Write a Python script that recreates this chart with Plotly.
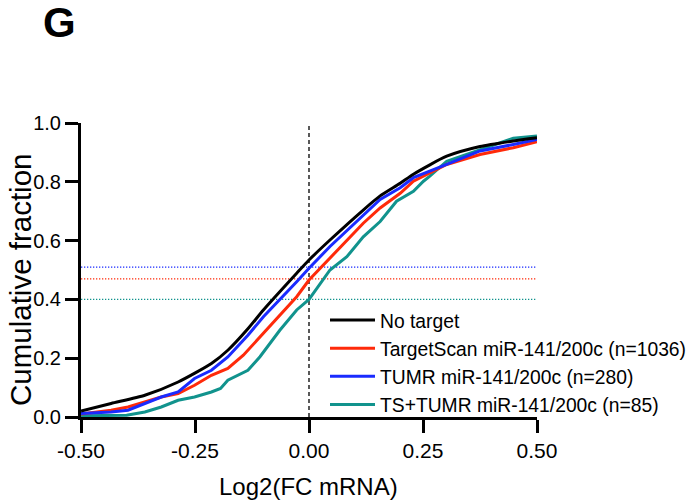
import plotly.graph_objects as go

# Cumulative fraction curves
x_black = [-0.5, -0.434, -0.36, -0.287, -0.214, -0.178, -0.134, -0.1, -0.027, 0.0, 0.046, 0.119, 0.156, 0.2, 0.229, 0.302, 0.375, 0.448, 0.5]
y_black = [0.02, 0.046, 0.074, 0.119, 0.182, 0.227, 0.30, 0.364, 0.489, 0.534, 0.602, 0.704, 0.752, 0.795, 0.826, 0.887, 0.92, 0.939, 0.95]

x_red = [-0.5, -0.434, -0.397, -0.36, -0.324, -0.287, -0.251, -0.214, -0.178, -0.144, -0.1, -0.027, 0.0, 0.046, 0.119, 0.156, 0.2, 0.229, 0.302, 0.375, 0.448, 0.5]
y_red = [0.01, 0.023, 0.034, 0.051, 0.068, 0.08, 0.108, 0.142, 0.165, 0.21, 0.284, 0.409, 0.466, 0.54, 0.659, 0.711, 0.761, 0.802, 0.859, 0.893, 0.916, 0.936]

x_blue = [-0.5, -0.434, -0.397, -0.36, -0.324, -0.287, -0.251, -0.214, -0.178, -0.134, -0.1, -0.027, 0.0, 0.046, 0.119, 0.156, 0.2, 0.229, 0.302, 0.375, 0.448, 0.5]
y_blue = [0.012, 0.017, 0.023, 0.046, 0.068, 0.085, 0.131, 0.159, 0.204, 0.278, 0.341, 0.46, 0.506, 0.58, 0.687, 0.74, 0.78, 0.814, 0.859, 0.905, 0.927, 0.944]

x_teal = [-0.5, -0.4, -0.36, -0.324, -0.287, -0.251, -0.214, -0.194, -0.178, -0.134, -0.1075, -0.064, -0.027, 0.0, 0.046, 0.083, 0.119, 0.156, 0.192, 0.229, 0.251, 0.265, 0.302, 0.375, 0.448, 0.5]
y_teal = [0.004, 0.006, 0.017, 0.034, 0.057, 0.068, 0.085, 0.097, 0.125, 0.159, 0.205, 0.295, 0.364, 0.40, 0.5, 0.545, 0.613, 0.665, 0.734, 0.768, 0.802, 0.819, 0.87, 0.91, 0.948, 0.956]

series_names = ["No target", "TargetScan miR-141/200c (n=1036)", "TUMR miR-141/200c (n=280)", "TS+TUMR miR-141/200c (n=85)"]
series_colors = ["#000000", "#ff2a0a", "#1a2bff", "#11938d"]

# Fraction at x = 0 for the three target sets (dotted reference lines)
ref_levels = [0.51, 0.47, 0.40]
ref_colors = ["#1a2bff", "#ff2a0a", "#11938d"]

x_ticks = [-0.5, -0.25, 0.0, 0.25, 0.5]
x_tick_labels = ["-0.50", "-0.25", "0.00", "0.25", "0.50"]
y_ticks = [0.0, 0.2, 0.4, 0.6, 0.8, 1.0]
y_tick_labels = ["0.0", "0.2", "0.4", "0.6", "0.8", "1.0"]

FONT = "Liberation Sans, Arial, Helvetica, sans-serif"

fig = go.Figure()

for lvl, col in zip(ref_levels, ref_colors):
    fig.add_trace(go.Scatter(x=[x_ticks[0], x_ticks[-1]], y=[lvl, lvl], mode="lines",
                             line=dict(color=col, width=1.3, dash="1.3px,1.7px"), showlegend=False, hoverinfo="skip"))
fig.add_trace(go.Scatter(x=[0, 0], y=[0, 1], mode="lines",
                         line=dict(color="#000000", width=1.3, dash="4px,3px"), showlegend=False, hoverinfo="skip"))

data = [(x_black, y_black, "spline"), (x_red, y_red, "linear"), (x_blue, y_blue, "linear"), (x_teal, y_teal, "linear")]
traces = []
for (xs, ys, shp), name, col in zip(data, series_names, series_colors):
    kw = dict(color=col, width=3, shape=shp)
    if shp == "spline":
        kw["smoothing"] = 0.6
    traces.append(go.Scatter(x=xs, y=ys, mode="lines", name=name, line=kw))
for i in [3, 1, 2, 0]:
    traces[i].legendrank = i + 1
    fig.add_trace(traces[i])

def px_x(px):
    return (px - 81) / 456

def px_y(py):
    return (416.7 - py) / 293.4

fig.update_layout(
    width=696, height=502,
    margin=dict(l=81, r=159, t=123, b=85, autoexpand=False),
    paper_bgcolor="white", plot_bgcolor="white",
    font=dict(family=FONT, color="black", size=16),
    showlegend=True,
    legend=dict(x=px_x(325), y=px_y(301), xanchor="left", yanchor="top", bgcolor="rgba(255,255,255,0)",
                font=dict(size=19.3, family=FONT), tracegroupgap=0, itemwidth=45, traceorder="normal"),
    xaxis=dict(range=[-0.5, 0.5], tickvals=x_ticks, ticktext=x_tick_labels, showgrid=False, zeroline=False,
               showline=True, linecolor="black", linewidth=3, ticks="outside", ticklen=13, tickwidth=3,
               tickcolor="black", tickfont=dict(size=21), automargin=False),
    yaxis=dict(range=[0, 1], tickvals=y_ticks, ticktext=y_tick_labels, showgrid=False, zeroline=False,
               showline=True, linecolor="black", linewidth=3, ticks="outside", ticklen=13, tickwidth=3,
               tickcolor="black", tickfont=dict(size=20), automargin=False),
    annotations=[
        dict(text="<b>G</b>", x=px_x(59), y=px_y(23), xref="paper", yref="paper", showarrow=False,
             xanchor="center", yanchor="middle", font=dict(size=42, family=FONT)),
        dict(text="Cumulative fraction", x=px_x(20), y=px_y(280), xref="paper", yref="paper", showarrow=False,
             textangle=-90, xanchor="center", yanchor="middle", font=dict(size=29.5, family=FONT)),
        dict(text="Log2(FC mRNA)", x=px_x(308), y=px_y(486), xref="paper", yref="paper", showarrow=False,
             xanchor="center", yanchor="middle", font=dict(size=24, family=FONT)),
    ],
)

fig.write_html("out.html", config={"displayModeBar": False},
               post_script="document.body.style.margin='0';document.body.style.padding='0';")
